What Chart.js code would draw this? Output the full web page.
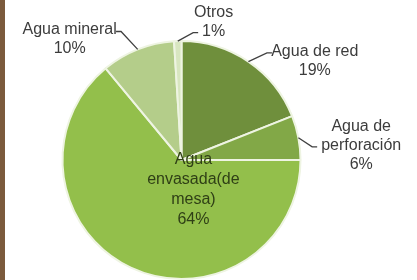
<!DOCTYPE html>
<html>
<head>
<meta charset="utf-8">
<script src="https://cdn.jsdelivr.net/npm/chart.js@4/dist/chart.umd.min.js"></script>
<style>
  html, body { margin: 0; padding: 0; background: #ffffff; overflow: hidden; }
  #wrap { position: relative; width: 417px; height: 280px; background: #ffffff; }
  #strip { position: absolute; left: 0; top: 0; width: 5px; height: 280px; background: #7b5a3c; }
  #c { position: absolute; left: 0; top: 0; }
</style>
</head>
<body>
<div id="wrap">
  <div id="strip"></div>
  <canvas id="c" width="417" height="280"></canvas>
</div>
<script>
// Data
const categories = ["Agua de red", "Agua de perforación", "Agua envasada(de mesa)", "Agua mineral", "Otros"];
const values = [19, 6, 64, 10, 1];
const labelLines = [
  ["Agua de red", "19%"],
  ["Agua de", "perforación", "6%"],
  ["Agua", "envasada(de", "mesa)", "64%"],
  ["Agua mineral", "10%"],
  ["Otros", "1%"]
];
const colors = ["#6f8f3c", "#82a847", "#93bf4b", "#b4cd8a", "#d8e6c0"];

// Label layout relative to pie center (in units of radius)
const layout = [
  { elbow: [0.76, -0.90], text: [1.12, -0.835], side: 'right' },
  { elbow: [1.14, -0.11], text: [1.51, -0.125], side: 'right' },
  { inside: true, text: [0.10, 0.0] },
  { elbow: [-0.55, -1.08], text: [-0.94, -1.02], side: 'left' },
  { elbow: [0.14, -1.07], text: [0.27, -1.155], side: 'right' }
];

const labelPlugin = {
  id: 'pieLabels',
  afterDatasetsDraw(chart) {
    const ctx = chart.ctx;
    const meta = chart.getDatasetMeta(0);
    ctx.save();
    meta.data.forEach((arc, i) => {
      const p = arc.getProps(['x', 'y', 'startAngle', 'endAngle', 'outerRadius'], true);
      const r = p.outerRadius;
      const mid = (p.startAngle + p.endAngle) / 2;
      const L = layout[i];
      const lines = labelLines[i];
      ctx.textBaseline = 'middle';
      ctx.textAlign = 'center';
      if (L.inside) {
        ctx.font = '16px "Liberation Sans", Arial, sans-serif';
        ctx.fillStyle = '#2f3f16';
        const cx = p.x + L.text[0] * r;
        const cy = p.y + L.text[1] * r;
        const lh = 20;
        lines.forEach((t, k) => ctx.fillText(t, cx, cy + k * lh));
        return;
      }
      const sx = p.x + Math.cos(mid) * r;
      const sy = p.y + Math.sin(mid) * r;
      const ex = p.x + L.elbow[0] * r;
      const ey = p.y + L.elbow[1] * r;
      ctx.strokeStyle = '#404040';
      ctx.lineWidth = 1.3;
      ctx.beginPath();
      ctx.moveTo(sx, sy);
      ctx.lineTo(ex + (L.side === 'right' ? -5 : 5), ey);
      ctx.lineTo(ex, ey);
      ctx.stroke();
      ctx.font = '16px "Liberation Sans", Arial, sans-serif';
      ctx.fillStyle = '#3c3c3c';
      const tx = p.x + L.text[0] * r;
      const ty = p.y + L.text[1] * r;
      const lh = 19;
      const y0 = ty - (lines.length - 1) * lh / 2;
      lines.forEach((t, k) => ctx.fillText(t, tx, y0 + k * lh));
    });
    ctx.restore();
  }
};

new Chart(document.getElementById('c'), {
  type: 'pie',
  data: {
    labels: categories,
    datasets: [{
      data: values,
      backgroundColor: colors,
      borderColor: '#eef4e2',
      borderWidth: 2
    }]
  },
  options: {
    responsive: false,
    animation: false,
    rotation: 0,
    layout: { padding: { left: 61, right: 115, top: 40, bottom: 0 } },
    plugins: {
      legend: { display: false },
      tooltip: { enabled: false },
      title: { display: false }
    }
  },
  plugins: [labelPlugin]
});
</script>
</body>
</html>
